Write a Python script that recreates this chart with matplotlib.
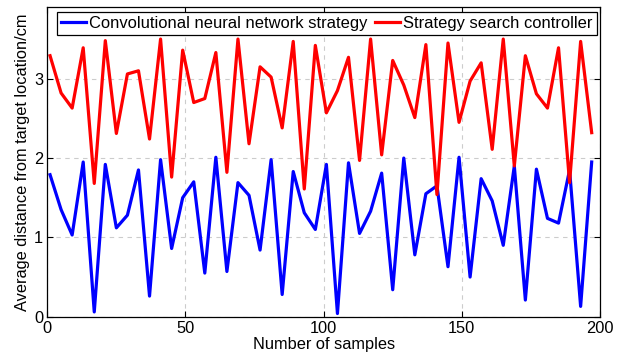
import matplotlib.pyplot as plt

# sample index: every 4th sample from 1 to 197
samples = list(range(1, 198, 4))

cnn_strategy = [1.79, 1.35, 1.03, 1.95, 0.06, 1.92, 1.12, 1.28, 1.85, 0.26,
                1.98, 0.86, 1.50, 1.70, 0.55, 2.01, 0.57, 1.69, 1.53, 0.84,
                1.98, 0.28, 1.83, 1.31, 1.10, 1.92, 0.04, 1.94, 1.05, 1.33,
                1.81, 0.34, 2.00, 0.78, 1.55, 1.65, 0.63, 2.01, 0.50, 1.74,
                1.46, 0.90, 1.90, 0.21, 1.86, 1.24, 1.18, 1.85, 0.13, 1.95]

search_controller = [3.29, 2.82, 2.63, 3.39, 1.68, 3.48, 2.31, 3.06, 3.10, 2.24,
                     3.50, 1.76, 3.36, 2.70, 2.75, 3.33, 1.82, 3.50, 2.18, 3.15,
                     3.02, 2.38, 3.47, 1.61, 3.42, 2.57, 2.85, 3.27, 1.97, 3.50,
                     2.04, 3.23, 2.92, 2.51, 3.43, 1.54, 3.45, 2.45, 2.97, 3.20,
                     2.11, 3.50, 1.90, 3.29, 2.81, 2.63, 3.39, 1.69, 3.47, 2.32]

plt.rcParams['font.family'] = ['Liberation Sans', 'DejaVu Sans']
plt.rcParams['font.size'] = 11.8

fig = plt.figure(figsize=(6.27, 3.59), dpi=100)
ax = fig.add_axes([0.0754, 0.1178, 0.8815, 0.8618])

ax.plot(samples, cnn_strategy, color='#0000ff', lw=2.3,
        label='Convolutional neural network strategy')
ax.plot(samples, search_controller, color='#ff0000', lw=2.3,
        label='Strategy search controller')

ax.set_xlim(0, 200)
ax.set_ylim(0, 3.9)
ax.set_xticks([0, 50, 100, 150, 200])
ax.set_yticks([0, 1, 2, 3])
ax.tick_params(direction='in', top=True, right=True, length=4, width=0.8, pad=3)
ax.grid(True, color='#cccccc', linestyle=(0, (4, 4)), linewidth=0.8)
for s in ax.spines.values():
    s.set_linewidth(0.9)

ax.set_xlabel('Number of samples', labelpad=1)
ax.set_ylabel('Average distance from target location/cm', labelpad=3)

leg = ax.legend(loc='upper left', bbox_to_anchor=(0.0175, 0.985), ncol=2,
                borderaxespad=0, handlelength=1.5, handletextpad=0.2,
                columnspacing=0.45, borderpad=0.25, fancybox=False,
                edgecolor='black', framealpha=1, fontsize=11.9)
leg.get_frame().set_linewidth(0.9)

fig.savefig('out.png', dpi=100)
